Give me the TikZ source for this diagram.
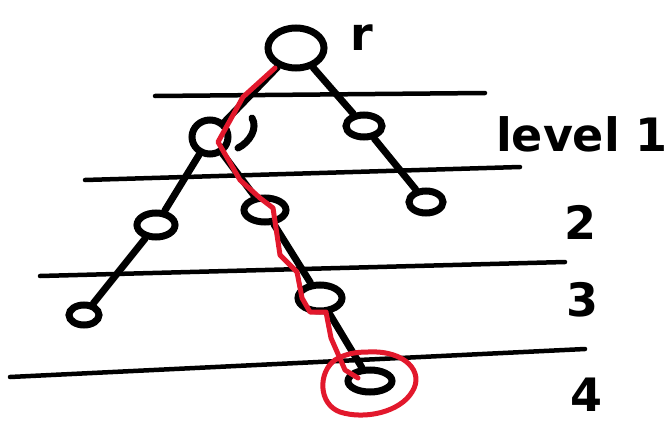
\documentclass[tikz,border=0pt]{standalone}
\usepackage{fontspec}
\setmainfont{DejaVu Sans}
\usetikzlibrary{shapes.geometric}
\definecolor{penred}{RGB}{226,24,44}
\begin{document}
\begin{tikzpicture}[x=1pt,y=-1pt,
  ink/.style={line width=7pt,line cap=round,line join=round},
  vert/.style={ellipse,draw,line width=7pt,inner sep=0pt},
  rule/.style={line width=4.5pt,line cap=round},
  lab/.style={font=\fontsize{46}{46}\selectfont\bfseries,anchor=center},
  mark path/.style={draw=penred,line width=5pt,line cap=round,line join=round}]
\useasboundingbox (0,0) rectangle (672,423);

% level separators
\draw[rule] (155,96) -- (485,93);
\draw[rule] (85,180) -- (520,167);
\draw[rule] (40,276) -- (565,262);
\draw[rule] (10,377) -- (585,349);

% vertices
\node[vert,minimum width=56pt,minimum height=40pt] (r) at (296,48) {};
\node[vert,minimum width=36pt,minimum height=34pt] (a) at (210,137) {};
\node[vert,minimum width=36pt,minimum height=22pt] (b) at (364,126) {};
\node[vert,minimum width=38pt,minimum height=24pt] (c) at (156,225) {};
\node[vert,minimum width=42pt,minimum height=24pt] (d) at (265,210) {};
\node[vert,minimum width=34pt,minimum height=22pt] (e) at (426,202) {};
\node[vert,minimum width=30pt,minimum height=20pt] (f) at (84,315) {};
\node[vert,minimum width=44pt,minimum height=26pt] (g) at (320,298) {};
\node[vert,minimum width=44pt,minimum height=22pt] (h) at (370,381) {};

% edges
\draw[ink] (r) -- (a);
\draw[ink] (r) -- (b);
\draw[ink] (b) -- (e);
\draw[ink] (a) -- (c);
\draw[ink] (a) -- (d);
\draw[ink] (c) -- (f);
\draw[ink] (d) -- (g);
\draw[ink] (g) -- (h);

% open hook beside the level-1 vertex
\draw[ink] (252,118) .. controls (258,128) and (250,142) .. (238,148);

% labels
\node[lab] (lr) at (362,38) {r};
\node[lab] (l1) at (582,134) {level 1};
\node[lab] (l2) at (580,222) {2};
\node[lab] (l3) at (582,300) {3};
\node[lab] (l4) at (586,395) {4};

% highlighted root-to-leaf path
\coordinate (p0) at (275,68);
\coordinate (p9) at (358,378);
\draw[mark path] (p0) -- (243,97) -- (218,142) -- (240,180) -- (260,198)
  -- (273,208) -- (280,255) -- (297,272) -- (302,298) -- (310,312)
  -- (326,312) -- (331,338) -- (345,370) -- (p9);
\draw[mark path] (368,352) .. controls (405,350) and (425,372) .. (412,392)
  .. controls (400,412) and (365,420) .. (340,412)
  .. controls (318,404) and (318,372) .. (335,360)
  .. controls (345,354) and (355,352) .. (368,352) -- cycle;
\end{tikzpicture}
\end{document}
